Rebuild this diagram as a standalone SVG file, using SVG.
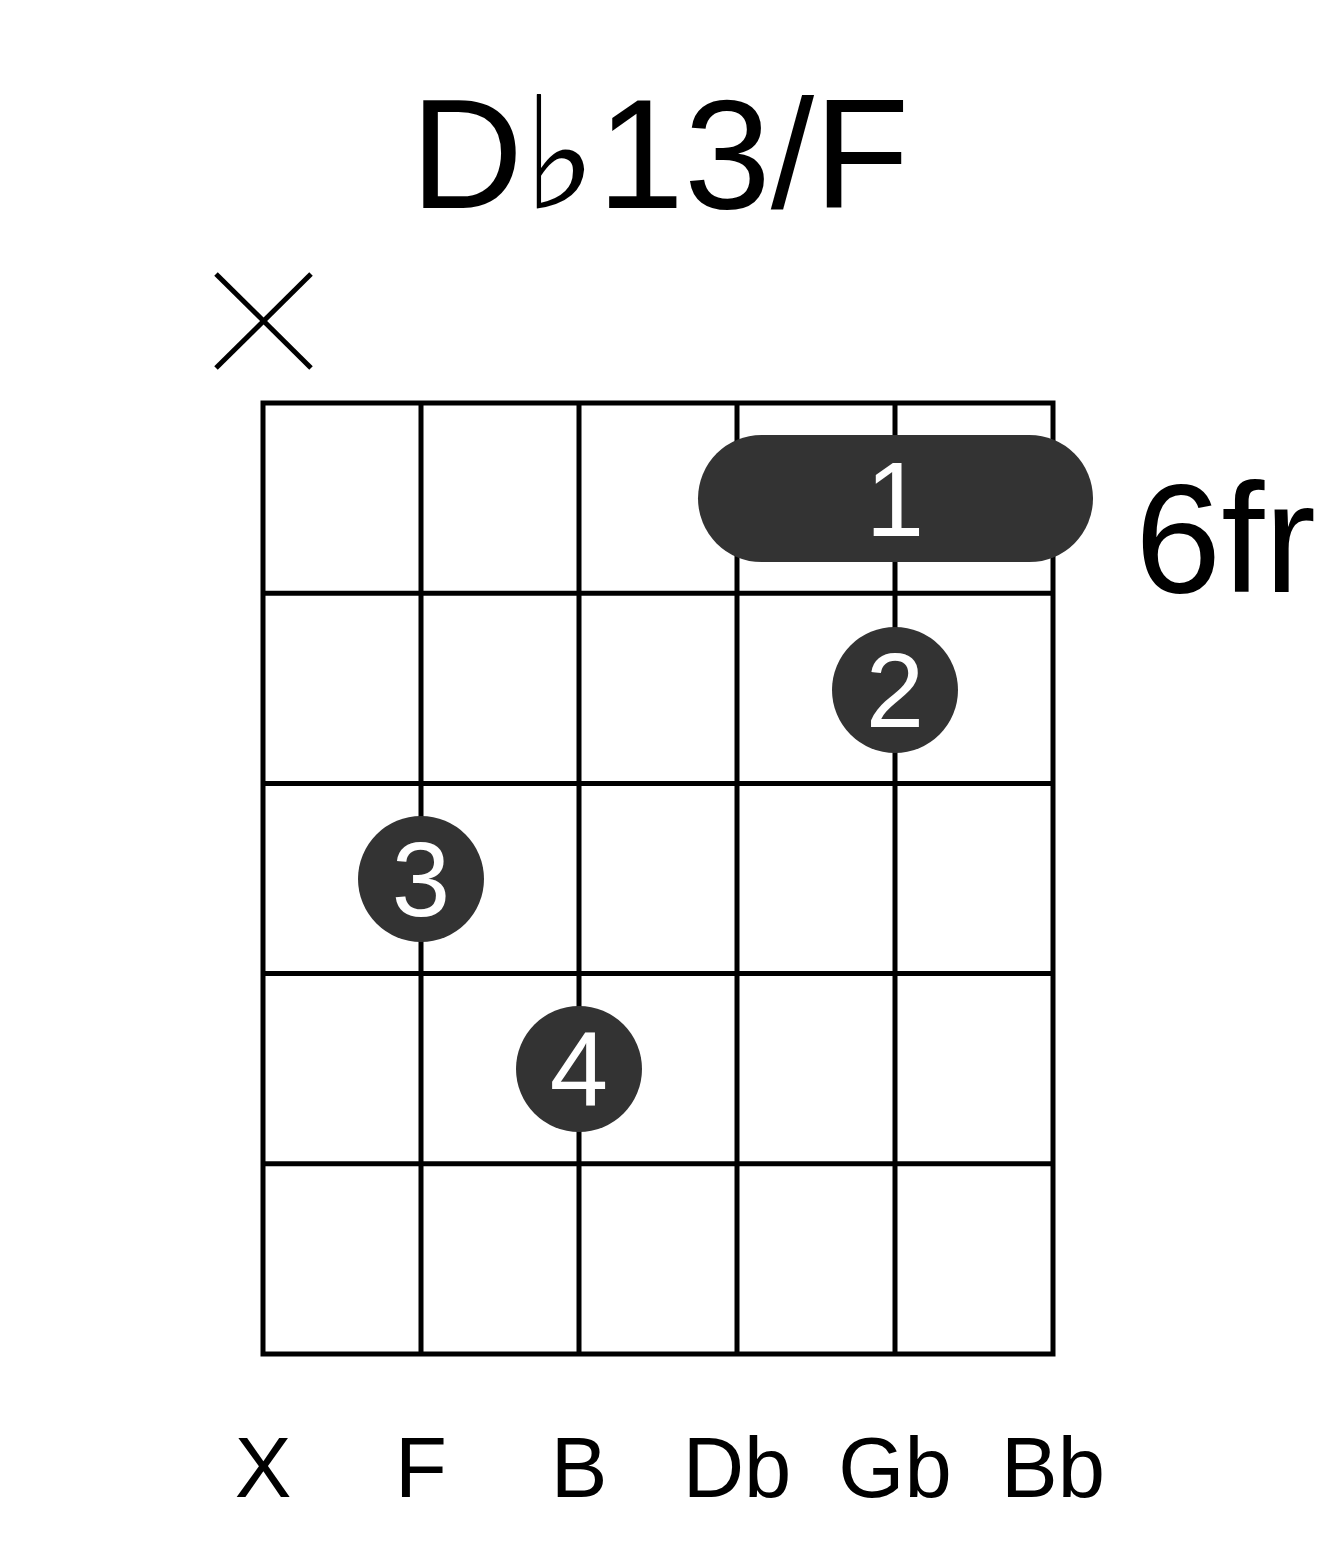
<svg xmlns="http://www.w3.org/2000/svg" width="1317" height="1551" viewBox="0 0 1317 1551">
<style>
.grid{stroke:#000;stroke-width:5;fill:none}
.dot{fill:#333333}
.fn{font-family:"Liberation Sans",Arial,sans-serif;fill:#fff;font-size:105px;text-anchor:middle}
.lbl{font-family:"Liberation Sans",Arial,sans-serif;fill:#000;font-size:85px;text-anchor:middle}
.mute{stroke:#000;stroke-width:5}
</style>
<rect width="1317" height="1551" fill="#fff"/>
<g id="title"><text x="660" y="208" font-family="Liberation Sans, Arial, sans-serif" font-size="156" text-anchor="middle">D♭13/F</text></g>
<g id="mute"><line class="mute" x1="216" y1="274" x2="311" y2="368"/><line class="mute" x1="311" y1="274" x2="216" y2="368"/></g>
<g id="grid">
<rect class="grid" x="263" y="403" width="790" height="951"/>
<line class="grid" x1="421" y1="403" x2="421" y2="1354"/>
<line class="grid" x1="579" y1="403" x2="579" y2="1354"/>
<line class="grid" x1="737" y1="403" x2="737" y2="1354"/>
<line class="grid" x1="895" y1="403" x2="895" y2="1354"/>
<line class="grid" x1="263" y1="593.2" x2="1053" y2="593.2"/>
<line class="grid" x1="263" y1="783.4" x2="1053" y2="783.4"/>
<line class="grid" x1="263" y1="973.6" x2="1053" y2="973.6"/>
<line class="grid" x1="263" y1="1163.8" x2="1053" y2="1163.8"/>
</g>
<g id="barre"><rect class="dot" x="698" y="435" width="395" height="127" rx="63.5"/><text class="fn" x="895" y="536">1</text></g>
<g id="finger2"><circle class="dot" cx="895" cy="690" r="63"/><text class="fn" x="895" y="727">2</text></g>
<g id="finger3"><circle class="dot" cx="421" cy="879" r="63"/><text class="fn" x="421" y="916">3</text></g>
<g id="finger4"><circle class="dot" cx="579" cy="1069" r="63"/><text class="fn" x="579" y="1106">4</text></g>
<g id="fret"><text x="1135" y="592" font-family="Liberation Sans, Arial, sans-serif" font-size="155">6fr</text></g>
<g id="labels">
<text class="lbl" x="263" y="1497">X</text>
<text class="lbl" x="421" y="1497">F</text>
<text class="lbl" x="579" y="1497">B</text>
<text class="lbl" x="737" y="1497">Db</text>
<text class="lbl" x="895" y="1497">Gb</text>
<text class="lbl" x="1053" y="1497">Bb</text>
</g>
</svg>
